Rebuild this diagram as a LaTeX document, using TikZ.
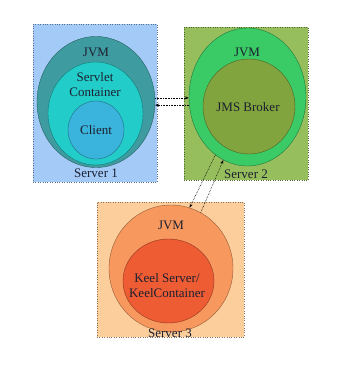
\documentclass[tikz,border=0pt]{standalone}
\usepackage{fontspec}
\setmainfont{Liberation Serif}
\usepackage{xcolor}
\usepackage{tikz}
\usetikzlibrary{arrows.meta, positioning, shapes.geometric}

\definecolor{serverA}{RGB}{164,202,248}
\definecolor{jvmA}{RGB}{62,156,160}
\definecolor{servletA}{RGB}{34,204,200}
\definecolor{clientA}{RGB}{58,180,220}
\definecolor{serverB}{RGB}{150,190,92}
\definecolor{jvmB}{RGB}{58,202,102}
\definecolor{brokerB}{RGB}{130,164,62}
\definecolor{serverC}{RGB}{252,206,156}
\definecolor{jvmC}{RGB}{247,152,94}
\definecolor{keelC}{RGB}{238,92,52}
\definecolor{labeltext}{RGB}{28,32,48}

\begin{document}
\begin{tikzpicture}[x=1pt, y=-1pt,
		server/.style={shape=rectangle, draw=#1!55!black, dotted, fill=#1, inner sep=0pt},
		blob/.style={shape=ellipse, draw=#1!60!black, thin, fill=#1, inner sep=0pt},
		caption/.style={text=labeltext, font=\fontsize{13}{15}\selectfont, align=center, inner sep=0pt},
		link/.style={densely dotted, semithick, -{Stealth[length=4pt, width=3pt]}}]
		\useasboundingbox (0, 0) rectangle (338, 366);
		% Server boxes:
		\node[server=serverA, minimum width=124pt, minimum height=158pt] (srvA) at (95, 103){};
		\node[server=serverB, minimum width=124pt, minimum height=153pt] (srvB) at (246, 103.5){};
		\node[server=serverC, minimum width=147pt, minimum height=135pt] (srvC) at (170.5, 269.5){};
		% Nested containers:
		\node[blob=jvmA, minimum width=118pt, minimum height=131pt] (jvmA) at (96, 102){};
		\node[blob=servletA, minimum width=95pt, minimum height=103pt] (servletA) at (95.5, 113.5){};
		\node[blob=clientA, minimum width=56pt, minimum height=58pt] (clientA) at (96, 130){};
		\node[blob=jvmB, minimum width=117pt, minimum height=138pt] (jvmB) at (247.5, 97){};
		\node[blob=brokerB, minimum width=92pt, minimum height=95pt] (brokerB) at (249, 106.5){};
		\node[blob=jvmC, minimum width=124pt, minimum height=127pt] (jvmC) at (171, 268.5){};
		\node[blob=keelC, minimum width=91pt, minimum height=84pt] (keelC) at (168.5, 281){};
		% Labels:
		\node[caption] (jvmAtext) at (96, 52){JVM};
		\node[caption] (servletAtext) at (95, 85){Servlet\\Container};
		\node[caption] (clientAtext) at (96, 130.5){Client};
		\node[caption] (srvAtext) at (96, 173.5){Server 1};
		\node[caption] (jvmBtext) at (247, 52){JVM};
		\node[caption] (brokerBtext) at (248, 107){JMS Broker};
		\node[caption] (srvBtext) at (246, 174){Server 2};
		\node[caption] (jvmCtext) at (171, 225){JVM};
		\node[caption] (keelCtext) at (167, 285.5){Keel Server/\\KeelContainer};
		\node[caption] (srvCtext) at (170, 333.5){Server 3};
		% Connections:
		\draw[link] (jvmA.4) -- (jvmA.4 -| jvmB.west);
		\draw[link] (jvmA.-3 -| jvmB.west) -- (jvmA.-3);
		\draw[link] (jvmB.241) -- (jvmC.73);
		\draw[link] (jvmC.62) -- (jvmB.249);
	\end{tikzpicture}
\end{document}
